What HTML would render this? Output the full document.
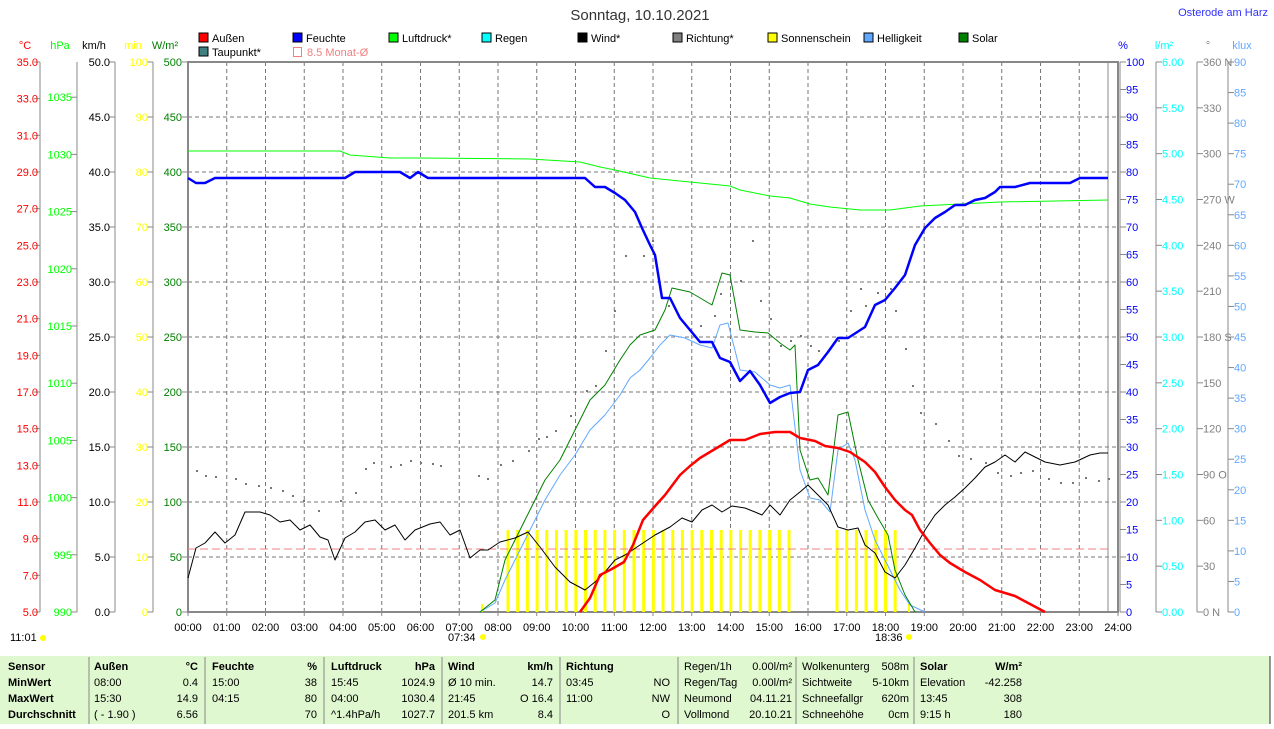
<!DOCTYPE html>
<html><head><meta charset="utf-8"><style>
body{margin:0;background:#fff;width:1274px;height:724px;overflow:hidden;font-family:"Liberation Sans",sans-serif}
svg text{font-family:"Liberation Sans",sans-serif;font-size:11px}
</style></head><body>
<svg id="s" width="1274" height="724" xmlns="http://www.w3.org/2000/svg">
<rect x="0" y="656" width="1270" height="68" fill="#e0f8d0"/>
<text x="640" y="20" font-size="15" text-anchor="middle" style="font-size:15px" fill="#333">Sonntag, 10.10.2021</text>
<text x="1268" y="16" text-anchor="end" fill="#3030ff">Osterode am Harz</text>
<g id="leg"></g>
<g id="grid"></g>
<g id="axes"></g>
<g id="series"></g>
</svg>
<script>
const NS="http://www.w3.org/2000/svg";
function el(p,t,a,txt){const e=document.createElementNS(NS,t);for(const k in a)e.setAttribute(k,a[k]);if(txt!==undefined)e.textContent=txt;document.getElementById(p).appendChild(e);return e;}
const X0=188,X1=1118,Y0=62,Y1=612;
// legend
const L=[[199,38,"#f00","Außen"],[293,38,"#00f","Feuchte"],[389,38,"#0f0","Luftdruck*"],[482,38,"#0ff","Regen"],[578,38,"#000","Wind*"],[673,38,"#808080","Richtung*"],[768,38,"#ff0","Sonnenschein"],[864,38,"#60a8ff","Helligkeit"],[959,38,"#008000","Solar"],[199,52,"#408080","Taupunkt*"]];
L.forEach(l=>{el("leg","rect",{x:l[0],y:l[1]-5,width:9,height:9,fill:l[2],stroke:"#000","stroke-width":1});el("leg","text",{x:l[0]+13,y:l[1]+4},l[3]);});
el("leg","rect",{x:293.5,y:47.5,width:8,height:9,fill:"none",stroke:"#f08080"});
el("leg","text",{x:307,y:56,fill:"#f08080"},"8.5 Monat-Ø");
// grid
for(let h=1;h<24;h++){const x=X0+h*38.75;el("grid","line",{x1:x,y1:Y0,x2:x,y2:Y1,stroke:"#777","stroke-dasharray":"4,3"});}
for(let i=1;i<10;i++){const y=Y0+i*55;el("grid","line",{x1:X0,y1:y,x2:X1,y2:y,stroke:"#777","stroke-dasharray":"4,3"});}
el("grid","rect",{x:X0,y:Y0,width:X1-X0,height:Y1-Y0,fill:"none",stroke:"#888","stroke-width":2});
el("grid","line",{x1:1108,y1:Y0,x2:1108,y2:Y1,stroke:"#888"});
for(let h=0;h<=24;h++){const x=X0+h*38.75;el("grid","line",{x1:x,y1:Y1,x2:x,y2:Y1+4,stroke:"#888"});el("grid","text",{x:x,y:631,"text-anchor":"middle"},String(h).padStart(2,"0")+":00");}
el("grid","text",{x:448,y:641},"07:34");el("grid","text",{x:875,y:641},"18:36");el("grid","text",{x:10,y:641},"11:01");
el("grid","circle",{cx:483,cy:637,r:3,fill:"#ff0"});el("grid","circle",{cx:909,cy:637,r:3,fill:"#ff0"});el("grid","circle",{cx:43,cy:638,r:3,fill:"#ff0"});
// axes
function axis(lx,tx,n,fmt,col,anchor,title,ttx,tcol){
 el("axes","line",{x1:lx,y1:Y0,x2:lx,y2:Y1,stroke:"#888"});
 for(let i=0;i<n.length;i++){const y=n[i][0];el("axes","line",{x1:anchor=="end"?lx-6:lx,y1:y,x2:anchor=="end"?lx:lx+6,y2:y,stroke:"#888"});el("axes","text",{x:tx,y:y+4,"text-anchor":anchor,fill:col},n[i][1]);}
 el("axes","text",{x:ttx,y:49,"text-anchor":"middle",fill:tcol||col},title);
}
let a=[];for(let i=0;i<=15;i++)a.push([Y1-i*550/15,(5+2*i).toFixed(1)]);axis(40,38,a,0,"#f00","end","°C",25);
a=[];for(let v=990;v<=1035;v+=5)a.push([Y1-(v-990)*11.44,String(v)]);axis(77,72,a,0,"#0f0","end","hPa",60);
a=[];for(let i=0;i<=10;i++)a.push([Y1-i*55,(5*i).toFixed(1)]);axis(115,110,a,0,"#000","end","km/h",94);
a=[];for(let i=0;i<=10;i++)a.push([Y1-i*55,String(10*i)]);axis(153,148,a,0,"#ff0","end","min",133);
a=[];for(let i=0;i<=10;i++)a.push([Y1-i*55,String(50*i)]);axis(188,182,a,0,"#008000","end","W/m²",165);
a=[];for(let i=0;i<=20;i++)a.push([Y1-i*27.5,String(5*i)]);axis(1120,1126,a,0,"#00f","start","%",1123);
a=[];for(let i=0;i<=12;i++)a.push([Y1-i*550/12,(0.5*i).toFixed(2)]);axis(1156,1162,a,0,"#0ff","start","l/m²",1164);
const dn={0:" N",3:" O",6:" S",9:" W",12:" N"};a=[];for(let i=0;i<=12;i++)a.push([Y1-i*550/12,String(30*i)+(dn[i]||"")]);axis(1197,1203,a,0,"#808080","start","°",1208);
a=[];for(let i=0;i<=18;i++)a.push([Y1-i*550/18,String(5*i)]);axis(1228,1234,a,0,"#60a8ff","start","klux",1242);
// sunshine bars
for(let x=508;x<=790;x+=9.69)el("series","rect",{x:x-1.5,y:530,width:3,height:82,fill:"#ff0"});
for(let x=837;x<=898;x+=9.69)el("series","rect",{x:x-1.5,y:530,width:3,height:82,fill:"#ff0"});
el("series","rect",{x:481,y:604,width:2,height:8,fill:"#ff0"});el("series","rect",{x:908,y:604,width:2,height:8,fill:"#ff0"});
el("series","line",{x1:X0,y1:549,x2:1108,y2:549,stroke:"#f08080","stroke-dasharray":"8,4"});
// direction dots
const dots=[[196,470],[205,475],[215,476],[235,478],[245,483],[258,485],[270,487],[282,490],[292,495],[303,500],[318,510],[340,500],[355,492],[365,468],[373,462],[390,466],[400,464],[410,460],[420,462],[432,463],[440,465],[478,475],[487,478],[500,464],[512,460],[528,450],[538,438],[546,436],[555,430],[570,415],[586,390],[595,385],[605,350],[614,310],[625,255],[643,255],[652,240],[668,305],[700,325],[714,315],[720,293],[740,280],[752,240],[760,300],[770,318],[780,345],[790,340],[800,335],[810,345],[818,350],[838,340],[850,310],[860,288],[865,305],[877,292],[890,288],[895,310],[905,348],[912,385],[920,412],[935,423],[948,440],[958,455],[970,458],[985,462],[997,472],[1010,475],[1020,472],[1032,470],[1048,478],[1060,482],[1072,482],[1085,477],[1098,480],[1108,478]];
dots.forEach(d=>el("series","rect",{x:d[0],y:d[1],width:2,height:2,fill:"#777"}));
function pl(pts,col,w){el("series","polyline",{points:pts,fill:"none",stroke:col,"stroke-width":w,"stroke-linejoin":"round"});}
pl("188,151 340,151 350,155 390,158 420,158 530,159 580,162 600,167 615,170 650,178 700,183 730,186 740,190 770,196 790,198 810,204 830,207 860,210 890,210 920,206 960,204 1000,202 1108,200","#0f0",1);
pl("480,612 495,603 505,580 515,560 525,540 545,500 560,475 575,455 590,430 605,415 620,395 630,378 640,370 650,358 660,345 670,335 685,338 700,345 712,348 720,325 728,323 740,370 755,372 770,385 780,388 790,385 800,470 810,498 820,500 830,512 838,450 848,443 855,460 865,510 875,540 890,570 900,590 910,605 925,612","#60a8ff",1);
pl("480,612 495,600 505,560 515,540 525,520 545,480 560,460 575,430 590,400 605,385 620,360 630,345 640,335 655,330 665,310 672,288 690,292 712,305 722,273 730,275 740,330 755,332 768,333 780,343 790,350 795,345 800,450 810,480 818,478 828,495 838,415 848,412 858,460 868,500 878,518 888,535 895,570 905,595 915,612","#008000",1);
pl("188,578 196,548 205,543 215,532 225,543 235,535 245,512 260,512 270,515 280,522 290,520 300,530 310,525 320,537 328,540 335,560 345,538 355,532 365,522 375,520 385,530 395,525 405,540 415,530 430,524 440,522 450,535 460,530 470,558 480,550 488,550 500,542 515,538 528,532 540,547 555,567 570,582 585,590 595,582 605,572 615,560 625,555 640,545 655,535 670,527 682,518 692,522 702,510 712,505 722,512 732,506 745,508 755,512 762,515 770,505 780,515 790,500 800,492 808,485 818,495 828,505 838,527 848,530 858,528 865,545 875,553 885,572 895,578 905,565 915,548 925,530 935,515 945,505 955,497 965,488 975,478 985,467 995,462 1005,455 1015,462 1025,452 1035,457 1045,462 1060,465 1075,462 1090,455 1100,453 1108,453","#000",1);
pl("580,612 590,598 600,575 610,570 624,562 633,545 643,520 656,505 665,495 680,475 690,466 700,458 715,449 730,440 745,440 760,434 775,432 790,432 800,438 815,441 825,446 838,448 850,452 865,462 875,472 885,487 895,500 905,510 912,515 920,530 930,543 940,555 950,563 965,572 980,580 995,590 1015,596 1030,604 1045,612","#f00",2.5);
pl("188,178 196,183 205,183 215,178 345,178 355,172 400,172 410,178 418,172 428,178 585,178 595,187 605,187 615,193 625,200 635,212 642,228 650,245 655,255 662,298 670,298 680,318 690,330 700,342 712,342 720,358 730,362 740,381 750,371 760,385 770,403 780,397 790,393 800,392 808,370 818,365 828,352 838,338 848,338 865,327 875,305 885,300 895,288 905,275 915,245 925,228 935,218 945,212 955,205 965,205 975,200 985,198 995,192 1000,187 1015,187 1030,183 1070,183 1080,178 1108,178","#00f",2.5);
// table
const T=document.getElementById("s");
const ty=[670,686,702,718];
const cells=[
[8,"Sensor",1],[8,"MinWert",1],[8,"MaxWert",1],[8,"Durchschnitt",1]];
cells.forEach((c,i)=>el("grid","text",{x:c[0],y:ty[i],"font-weight":"bold"},c[1]));
function col(x,rows,anchor,bold){rows.forEach((r,i)=>{if(r)el("grid","text",{x:x,y:ty[i],"text-anchor":anchor||"start","font-weight":bold&&i==0?"bold":"normal"},r);});}
col(94,["Außen","08:00","15:30","( - 1.90 )"],0,1);col(198,["°C","0.4","14.9","6.56"],"end",1);
col(212,["Feuchte","15:00","04:15",""],0,1);col(317,["%","38","80","70"],"end",1);
col(331,["Luftdruck","15:45","04:00","^1.4hPa/h"],0,1);col(435,["hPa","1024.9","1030.4","1027.7"],"end",1);
col(448,["Wind","Ø 10 min.","21:45","201.5 km"],0,1);col(553,["km/h","14.7","O 16.4","8.4"],"end",1);
col(566,["Richtung","03:45","11:00",""],0,1);col(670,["","NO","NW","O"],"end");
col(684,["Regen/1h","Regen/Tag","Neumond","Vollmond"]);col(792,["0.00l/m²","0.00l/m²","04.11.21","20.10.21"],"end");
col(802,["Wolkenunterg","Sichtweite","Schneefallgr","Schneehöhe"]);col(909,["508m","5-10km","620m","0cm"],"end");
col(920,["Solar","Elevation","13:45","9:15 h"],0,1);col(1022,["W/m²","-42.258","308","180"],"end",1);
[89,205,324,442,560,678,796,914].forEach(x=>el("grid","line",{x1:x,y1:657,x2:x,y2:724,stroke:"#888"}));
el("grid","line",{x1:1270,y1:656,x2:1270,y2:724,stroke:"#333"});
</script>
</body></html>
